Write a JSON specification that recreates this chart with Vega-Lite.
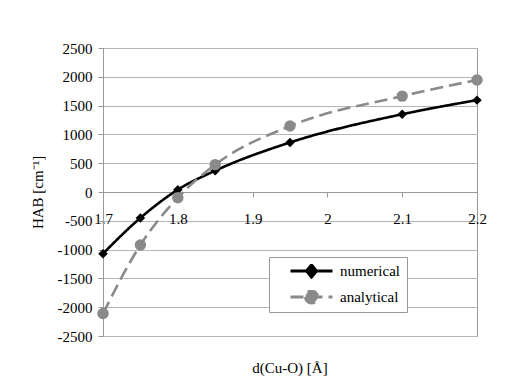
{
  "$schema": "https://vega.github.io/schema/vega-lite/v6.json",
  "autosize": "none",
  "width": 374,
  "height": 288,
  "padding": {"left": 103, "top": 48, "right": 33, "bottom": 49},
  "background": "white",
  "config": {
    "view": {"stroke": "#999999", "strokeWidth": 1},
    "font": "Liberation Serif",
    "axis": {"labelFont": "Liberation Serif", "titleFont": "Liberation Serif"},
    "legend": {"labelFont": "Liberation Serif"}
  },
  "title": {"text": "d(Cu-O) [Å]", "orient": "bottom", "font": "Liberation Serif", "fontSize": 15, "fontWeight": "normal", "offset": 17, "color": "black"},
  "data": {"values": [
    {"d": 1.7, "H": -1070, "series": "numerical"},
    {"d": 1.75, "H": -450, "series": "numerical"},
    {"d": 1.8, "H": 40, "series": "numerical"},
    {"d": 1.85, "H": 370, "series": "numerical"},
    {"d": 1.95, "H": 860, "series": "numerical"},
    {"d": 2.1, "H": 1350, "series": "numerical"},
    {"d": 2.2, "H": 1595, "series": "numerical"},
    {"d": 1.7, "H": -2110, "series": "analytical"},
    {"d": 1.75, "H": -920, "series": "analytical"},
    {"d": 1.8, "H": -100, "series": "analytical"},
    {"d": 1.85, "H": 475, "series": "analytical"},
    {"d": 1.95, "H": 1145, "series": "analytical"},
    {"d": 2.1, "H": 1665, "series": "analytical"},
    {"d": 2.2, "H": 1945, "series": "analytical"}
  ]},
  "encoding": {
    "x": {"field": "d", "type": "quantitative",
      "scale": {"domain": [1.7, 2.2], "nice": false, "zero": false},
      "axis": {"values": [1.7, 1.8, 1.9, 2.0, 2.1, 2.2], "format": "~g", "offset": -144, "title": null, "grid": false, "domainColor": "#999999", "tickColor": "#999999", "tickSize": 5, "labelPadding": 14, "labelFlush": false, "labelFont": "Liberation Serif", "labelFontSize": 15, "labelColor": "black"}},
    "y": {"field": "H", "type": "quantitative",
      "scale": {"domain": [-2500, 2500], "nice": false},
      "axis": {"values": [-2500, -2000, -1500, -1000, -500, 0, 500, 1000, 1500, 2000, 2500], "labelExpr": "'' + datum.value", "title": "HAB [cm⁻¹]", "titleFont": "Liberation Serif", "titleFontSize": 15, "titleFontWeight": "normal", "titleColor": "black", "titlePadding": 12, "grid": true, "gridColor": "#b5b5b5", "domainColor": "#999999", "tickColor": "#999999", "tickSize": 5, "labelPadding": 6, "labelFont": "Liberation Serif", "labelFontSize": 15, "labelColor": "black"}}
  },
  "layer": [
    {
      "mark": {"type": "line", "interpolate": "monotone", "strokeWidth": 2.6},
      "encoding": {
        "stroke": {"field": "series", "type": "nominal",
          "scale": {"domain": ["numerical", "analytical"], "range": ["black", "#8a8a8a"]},
          "legend": {"title": null, "orient": "none", "legendX": 166, "legendY": 209, "strokeColor": "#999999", "fillColor": "white", "padding": 7, "labelFont": "Liberation Serif", "labelFontSize": 15, "labelColor": "black", "symbolSize": 100, "symbolStrokeWidth": 3, "rowPadding": 11, "clipHeight": 14, "labelOffset": 49,
            "encode": {"symbols": {"update": {
              "shape": {"signal": "datum.value === 'numerical' ? 'M1.4,0H9.8M5.6,-1.2L6.6,0L5.6,1.2L4.6,0Z' : 'M1.4,0H9.8M4.4,0A1.2,1.2 0 1,0 6.8,0A1.2,1.2 0 1,0 4.4,0Z'"},
              "fill": {"signal": "datum.value === 'numerical' ? 'black' : '#8a8a8a'"},
              "fillOpacity": {"value": 1}
            }}}}},
        "strokeDash": {"field": "series", "type": "nominal",
          "scale": {"domain": ["numerical", "analytical"], "range": [[1, 0], [13, 6]]},
          "legend": {"title": null}}
      }
    },
    {
      "transform": [{"filter": "datum.series === 'numerical'"}],
      "mark": {"type": "point", "filled": true, "opacity": 1, "shape": "diamond", "color": "black", "size": 90},
      "encoding": {}
    },
    {
      "transform": [{"filter": "datum.series === 'analytical'"}],
      "mark": {"type": "point", "filled": true, "opacity": 1, "shape": "circle", "color": "#8a8a8a", "size": 130},
      "encoding": {}
    }
  ]
}
